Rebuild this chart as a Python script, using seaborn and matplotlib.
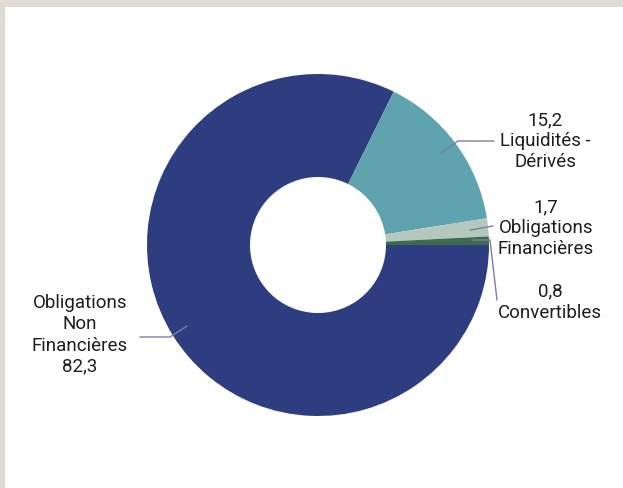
import numpy as np
import matplotlib
matplotlib.use("Agg")
import matplotlib.pyplot as plt
import seaborn as sns
from matplotlib.patches import Rectangle

# Data
categories = ["Obligations Non Financières", "Liquidités - Dérivés",
              "Obligations Financières", "Convertibles"]
values = [82.3, 15.2, 1.7, 0.8]
colors = ["#2E3D80", "#5FA3AE", "#B5C8BE", "#3D6B4E"]
value_labels = ["82,3", "15,2", "1,7", "0,8"]

sns.set_theme(style="white")
plt.rcParams['font.family'] = ['Roboto', 'DejaVu Sans']

fig = plt.figure(figsize=(6.23, 4.88), dpi=100)
fig.patch.set_facecolor("white")

# gray frame on top and left
fig.patches.append(Rectangle((0, 1 - 7 / 488), 1, 7 / 488, transform=fig.transFigure,
                             facecolor="#E1DBD6", edgecolor="none", zorder=0))
fig.patches.append(Rectangle((0, 0), 5 / 623, 1, transform=fig.transFigure,
                             facecolor="#E1DBD6", edgecolor="none", zorder=0))

ax = fig.add_axes([0, 0, 1, 1])

cx, cy, r, hole = 318, 488 - 245, 171, 68
wedges, _ = ax.pie(values, colors=colors, startangle=0, counterclock=False,
                   center=(cx, cy), radius=r, frame=True,
                   wedgeprops=dict(width=r - hole, edgecolor="none"))
ax.set_xlim(0, 623)
ax.set_ylim(0, 488)
ax.set_aspect("equal")
ax.axis("off")

line_col = "#7E7BA8"
txt_col = "#1E1E1E"
fs = 13.5
ls = 1.22

def Y(y):
    return 488 - y

# Obligations Non Financieres
ax.plot([140, 170, 187], [Y(337), Y(337), Y(326)], color=line_col, lw=1)
ax.text(80, Y(335), "Obligations\nNon\nFinancières\n" + value_labels[0],
        ha="center", va="center", fontsize=fs, color=txt_col, linespacing=ls)

# Liquidites - Derives
ax.plot([441, 458, 494], [Y(153), Y(141), Y(141)], color=line_col, lw=1)
ax.text(545, Y(141), value_labels[1] + "\nLiquidités -\nDérivés",
        ha="center", va="center", fontsize=fs, color=txt_col, linespacing=ls)

# Obligations Financieres
ax.plot([470, 493], [Y(230), Y(226)], color=line_col, lw=1)
ax.text(546, Y(228), value_labels[2] + "\nObligations\nFinancières",
        ha="center", va="center", fontsize=fs, color=txt_col, linespacing=ls)

# Convertibles
ax.plot([472, 490, 497], [Y(240), Y(240), Y(300)], color=line_col, lw=1)
ax.text(550, Y(302), value_labels[3] + "\nConvertibles",
        ha="center", va="center", fontsize=fs, color=txt_col, linespacing=ls)

fig.savefig("out.png", dpi=100)
